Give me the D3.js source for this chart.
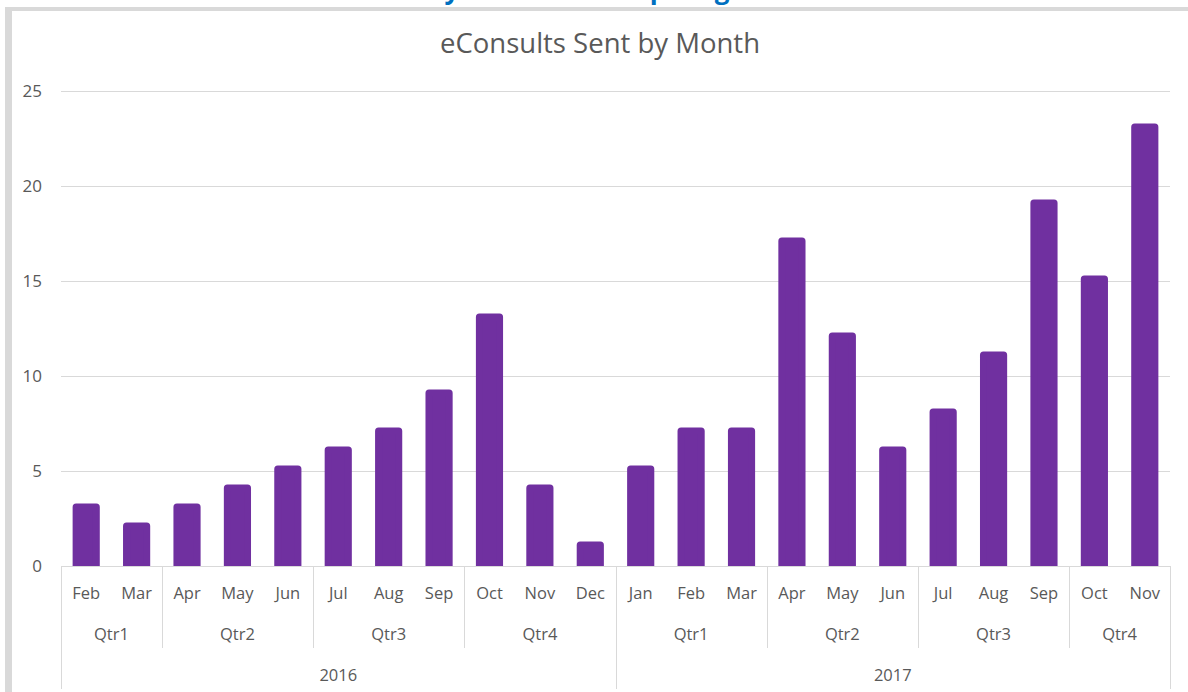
<!DOCTYPE html>
<html>
<head>
<meta charset="utf-8">
<script src="https://cdn.jsdelivr.net/npm/d3@7"></script>
<style>
  html, body { margin: 0; padding: 0; background: #fff; }
  svg { display: block; }
  text { font-family: "Open Sans", "Noto Sans", sans-serif; }
</style>
</head>
<body>
<svg id="chart" width="1188" height="692"></svg>
<script>
const chartTitle = "eConsults Sent by Month";
const months = ["Feb","Mar","Apr","May","Jun","Jul","Aug","Sep","Oct","Nov","Dec",
                "Jan","Feb","Mar","Apr","May","Jun","Jul","Aug","Sep","Oct","Nov"];
const quarters = ["Qtr1","Qtr1","Qtr2","Qtr2","Qtr2","Qtr3","Qtr3","Qtr3","Qtr4","Qtr4","Qtr4",
                  "Qtr1","Qtr1","Qtr1","Qtr2","Qtr2","Qtr2","Qtr3","Qtr3","Qtr3","Qtr4","Qtr4"];
const years = ["2016","2016","2016","2016","2016","2016","2016","2016","2016","2016","2016",
               "2017","2017","2017","2017","2017","2017","2017","2017","2017","2017","2017"];
const values = [3,2,3,4,5,6,7,9,13,4,1,5,7,7,17,12,6,8,11,19,15,23];
const yTicks = [0,5,10,15,20,25];
const headerFragments = [{t:"y",x:452},{t:"p",x:658},{t:"g",x:722}];

(function draw() {
const svg = d3.select("#chart");
const W = 1188, H = 692;
const pLeft = 61, pRight = 1170, pTop = 91, pBottom = 566;
const gray = "#595959", lineGray = "#d9d9d9", barColor = "#7030a0";

// header text of the page above, clipped by the window edge (only descenders visible)
svg.selectAll("text.hdr").data(headerFragments).join("text")
  .attr("class","hdr")
  .attr("x", d => d.x).attr("y", -1)
  .attr("text-anchor","middle")
  .attr("font-size", 26).attr("font-weight","bold")
  .attr("fill","#0070c0")
  .text(d => d.t);

// frame
svg.append("rect").attr("x",5).attr("y",7).attr("width",W-5).attr("height",4).attr("fill",lineGray);
svg.append("rect").attr("x",5).attr("y",7).attr("width",7).attr("height",H-7).attr("fill",lineGray);

const idx = d3.range(values.length);
const x = d3.scaleBand().domain(idx).range([pLeft, pRight]).paddingInner(0.6).paddingOuter(0.3);
const step = x.step();
const y = d3.scaleLinear().domain([0,25]).range([pBottom, pTop]);

// title
svg.append("text").attr("x", 600).attr("y", 53)
  .attr("text-anchor","middle").attr("font-size", 27.5).attr("fill", gray)
  .text(chartTitle);

// gridlines
svg.append("g").selectAll("line").data(yTicks.filter(d => d > 0)).join("line")
  .attr("x1", pLeft).attr("x2", pRight)
  .attr("y1", d => Math.round(y(d)) + 0.5).attr("y2", d => Math.round(y(d)) + 0.5)
  .attr("stroke", lineGray).attr("stroke-width", 1);

// y axis labels
const yAxis = d3.axisLeft(y).tickValues(yTicks).tickSize(0).tickPadding(0).tickFormat(d3.format("d"));
const ya = svg.append("g").attr("transform", `translate(42,0)`).call(yAxis);
ya.select(".domain").remove();
ya.selectAll("text").attr("font-size", 17).attr("fill", gray)
  .attr("font-family", '"Open Sans", "Noto Sans", sans-serif');

// bars
svg.append("clipPath").attr("id","plotclip").append("rect")
  .attr("x", 0).attr("y", 0).attr("width", W).attr("height", pBottom);
svg.append("g").attr("clip-path","url(#plotclip)")
  .selectAll("rect").data(idx).join("rect")
  .attr("x", i => x(i)).attr("width", x.bandwidth())
  .attr("y", i => y(values[i]) - 2).attr("height", i => pBottom - y(values[i]) + 2)
  .attr("fill", barColor).attr("stroke", barColor)
  .attr("stroke-width", 7).attr("stroke-linejoin","round");

// category axis line
svg.append("line").attr("x1", pLeft).attr("x2", pRight)
  .attr("y1", pBottom + 0.5).attr("y2", pBottom + 0.5).attr("stroke", lineGray);

// month labels
svg.append("g").selectAll("text").data(idx).join("text")
  .attr("x", i => x(i) + x.bandwidth()/2).attr("y", 599)
  .attr("text-anchor","middle").attr("font-size", 16.5).attr("fill", gray)
  .text(i => months[i]);

function runs(arr, keyFn) {
  const out = [];
  arr.forEach((v, i) => {
    const k = keyFn(i);
    if (out.length && out[out.length-1].key === k) out[out.length-1].end = i;
    else out.push({key: k, label: v, start: i, end: i});
  });
  return out;
}
const qRuns = runs(quarters, i => years[i] + quarters[i]);
const yRuns = runs(years, i => years[i]);
const bx = i => pLeft + i * step;

svg.append("g").selectAll("text").data(qRuns).join("text")
  .attr("x", r => (bx(r.start) + bx(r.end + 1)) / 2).attr("y", 640)
  .attr("text-anchor","middle").attr("font-size", 16.5).attr("fill", gray)
  .text(r => r.label);
svg.append("g").selectAll("line").data(qRuns.slice(1)).join("line")
  .attr("x1", r => Math.round(bx(r.start)) + 0.5).attr("x2", r => Math.round(bx(r.start)) + 0.5)
  .attr("y1", pBottom).attr("y2", 648).attr("stroke", lineGray);

svg.append("g").selectAll("text").data(yRuns).join("text")
  .attr("x", r => (bx(r.start) + bx(r.end + 1)) / 2).attr("y", 681)
  .attr("text-anchor","middle").attr("font-size", 16.5).attr("fill", gray)
  .text(r => r.label);
const yBounds = [yRuns[0].start].concat(yRuns.map(r => r.end + 1));
svg.append("g").selectAll("line").data(yBounds).join("line")
  .attr("x1", b => Math.round(bx(b)) + 0.5).attr("x2", b => Math.round(bx(b)) + 0.5)
  .attr("y1", pBottom).attr("y2", 689).attr("stroke", lineGray);
})();
</script>
</body>
</html>
